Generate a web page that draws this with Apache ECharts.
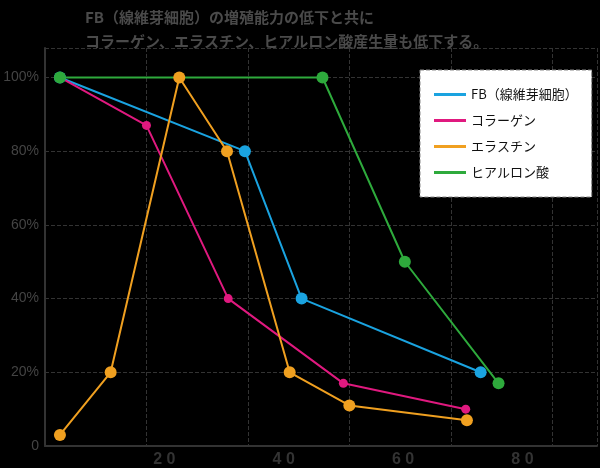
<!DOCTYPE html><html><head><meta charset="utf-8"><script src="https://cdn.jsdelivr.net/npm/echarts@6/dist/echarts.min.js"></script>
<style>html,body{margin:0;background:#000}#c{width:600px;height:468px}</style></head><body><div id="c"></div><script>
const names=['FB（線維芽細胞）','コラーゲン','エラスチン','ヒアルロン酸'];
const fb=[[2.5,100],[33.5,80],[43,40],[73,20]];
const collagen=[[2.5,100],[17,87],[30.7,40],[50,17],[70.5,10]];
const elastin=[[2.5,3],[11,20],[22.5,100],[30.5,80],[41,20],[51,11],[70.7,7]];
const hyaluronic=[[2.5,100],[46.5,100],[60.3,50],[76,17]];
const xTicks=[20,40,60,80];
const yTicks=[0,20,40,60,80,100];
const colors=['#1aa3e0','#e0197f','#f0a020','#2eaa3c'];
const ch=echarts.init(document.getElementById('c'));
const mk=(i,d,s)=>({name:names[i],type:'line',data:d,xAxisIndex:1,symbol:'circle',symbolSize:s,
 itemStyle:{color:colors[i]},lineStyle:{width:2,color:colors[i]}});
ch.setOption({backgroundColor:'#000',animation:false,
 title:{text:'FB（線維芽細胞）の増殖能力の低下と共に\nコラーゲン、エラスチン、ヒアルロン酸産生量も低下する。',left:80,top:0,
  textStyle:{color:'#4a4a4a',fontSize:15,fontWeight:'bold',lineHeight:24,fontFamily:'Noto Sans CJK JP'}},
 legend:{orient:'vertical',left:420,top:70,width:170,backgroundColor:'#fff',borderColor:'#888',borderWidth:1,borderType:'dashed',
  padding:[18,14,18,14],itemGap:13,itemWidth:32,itemHeight:3,icon:'rect',
  textStyle:{color:'#111',fontSize:13,fontFamily:'Noto Sans CJK JP'},data:names},
 grid:{left:45,right:0,top:48,bottom:21},
 xAxis:[{type:'value',min:0,max:108.8,interval:20,axisLabel:{show:false},axisTick:{show:false},
   axisLine:{lineStyle:{color:'#333',width:2}},splitLine:{show:true,lineStyle:{color:'#333',type:'dashed'}}},
  {type:'value',min:0,max:92.5,interval:20,position:'bottom',axisLine:{show:false},axisTick:{show:false},splitLine:{show:false},
   axisLabel:{color:'#333',fontSize:16,fontWeight:'bold',margin:6,formatter:v=>xTicks.includes(v)?String(v).split('').join(' '):''}}],
 yAxis:{type:'value',min:0,max:108,interval:20,axisTick:{show:false},axisLine:{show:true,lineStyle:{color:'#333',width:2}},
  splitLine:{lineStyle:{color:'#333',type:'dashed'}},
  axisLabel:{color:'#444',fontSize:14,margin:6,formatter:v=>yTicks.includes(v)?(v===0?'0':v+'%'):''}},
 series:[mk(0,fb,12),mk(1,collagen,9),mk(2,elastin,12),mk(3,hyaluronic,12)]
});
</script></body></html>
